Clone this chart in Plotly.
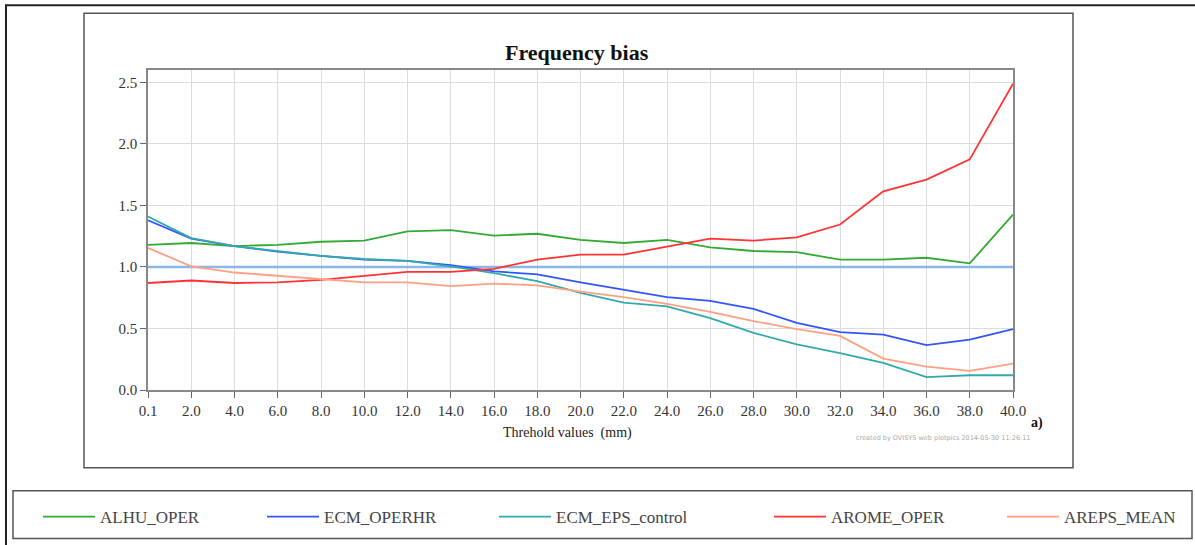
import plotly.graph_objects as go

# Threshold categories (mm)
thresholds = ["0.1", "2.0", "4.0", "6.0", "8.0", "10.0", "12.0", "14.0", "16.0", "18.0",
              "20.0", "22.0", "24.0", "26.0", "28.0", "30.0", "32.0", "34.0", "36.0", "38.0", "40.0"]

# Frequency bias per model
alhu_oper = [1.18, 1.195, 1.17, 1.18, 1.205, 1.215, 1.29, 1.30, 1.255, 1.27, 1.22,
             1.195, 1.22, 1.16, 1.13, 1.12, 1.06, 1.06, 1.075, 1.03, 1.425]
ecm_operhr = [1.38, 1.23, 1.17, 1.125, 1.09, 1.06, 1.05, 1.015, 0.965, 0.94, 0.875,
              0.815, 0.755, 0.725, 0.66, 0.545, 0.47, 0.45, 0.365, 0.41, 0.495]
ecm_eps_control = [1.41, 1.235, 1.17, 1.13, 1.09, 1.065, 1.05, 1.005, 0.95, 0.885, 0.79,
                   0.71, 0.68, 0.585, 0.465, 0.37, 0.30, 0.22, 0.105, 0.12, 0.12]
arome_oper = [0.87, 0.89, 0.87, 0.875, 0.895, 0.925, 0.96, 0.96, 0.985, 1.06, 1.10,
              1.10, 1.165, 1.23, 1.215, 1.24, 1.345, 1.615, 1.71, 1.875, 2.49]
areps_mean = [1.155, 1.005, 0.955, 0.93, 0.905, 0.875, 0.875, 0.845, 0.865, 0.85, 0.80,
              0.755, 0.70, 0.635, 0.56, 0.495, 0.44, 0.255, 0.19, 0.155, 0.215]

perfect_bias = 1.0

W, H = 1195, 545
L, R, T, B = 148, 1013, 70, 391  # plot area in pixels


def px(x):
    return (x - L) / (R - L)


def py(y):
    return (B - y) / (B - T)


SERIF = "Liberation Serif, DejaVu Serif, serif"

fig = go.Figure()

# unbiased reference level
fig.add_trace(go.Scatter(x=thresholds, y=[perfect_bias] * len(thresholds), mode="lines",
                         line=dict(color="#8ab8e8", width=2.5), showlegend=False,
                         hoverinfo="skip"))

# name, values, colour, legend id, legend-sample centre (px)
series = [
    ("ALHU_OPER", alhu_oper, "#33aa33", "legend", 59),
    ("ECM_OPERHR", ecm_operhr, "#3355ff", "legend2", 283),
    ("ECM_EPS_control", ecm_eps_control, "#33aaaa", "legend3", 515),
    ("AROME_OPER", arome_oper, "#ff3333", "legend4", 790),
    ("AREPS_MEAN", areps_mean, "#ffa083", "legend5", 1023),
]

legends = {}
for name, vals, color, lg, cx in series:
    fig.add_trace(go.Scatter(x=thresholds, y=vals, mode="lines", name=name,
                             line=dict(color=color, width=1.8), legend=lg))
    legends[lg] = dict(x=px(cx - 21), y=py(517), xanchor="left", yanchor="middle",
                       xref="paper", yref="paper", bgcolor="rgba(0,0,0,0)",
                       borderwidth=0, itemwidth=52,
                       font=dict(family=SERIF, size=17, color="#444"))

shapes = [
    # outer frame
    dict(type="rect", xref="paper", yref="paper", x0=px(6), x1=px(1210), y0=py(5), y1=py(560),
         line=dict(color="#222", width=2)),
    # chart box
    dict(type="rect", xref="paper", yref="paper", x0=px(84), x1=px(1073), y0=py(13), y1=py(469),
         line=dict(color="#555", width=1.5)),
    # legend box
    dict(type="rect", xref="paper", yref="paper", x0=px(13), x1=px(1192), y0=py(492), y1=py(540),
         line=dict(color="#555", width=1.5)),
]

annotations = [
    dict(text="<b>Frequency bias</b>", xref="paper", yref="paper", x=px(577), y=py(52),
         xanchor="center", yanchor="middle", showarrow=False,
         font=dict(family=SERIF, size=22, color="#111")),
    dict(text="Threhold values  (mm)", xref="paper", yref="paper", x=px(567), y=py(434),
         xanchor="center", yanchor="middle", showarrow=False,
         font=dict(family=SERIF, size=14, color="#222")),
    dict(text="<b>a)</b>", xref="paper", yref="paper", x=px(1037), y=py(424),
         xanchor="center", yanchor="middle", showarrow=False,
         font=dict(family=SERIF, size=14, color="#111")),
    dict(text="created by OVISYS web plotpics 2014-05-30 11:26:11", xref="paper", yref="paper",
         x=px(1032), y=py(439), xanchor="right", yanchor="middle", showarrow=False,
         font=dict(family="DejaVu Sans, sans-serif", size=6.5, color="#aaa")),
]

fig.update_layout(
    width=W, height=H,
    margin=dict(l=L, r=W - R, t=T, b=H - B),
    paper_bgcolor="white", plot_bgcolor="white",
    shapes=shapes, annotations=annotations,
    **legends,
)

fig.update_xaxes(type="category", range=[0, len(thresholds) - 1],
                 showgrid=True, gridcolor="#dcdcdc", gridwidth=1,
                 showline=True, linecolor="#888", linewidth=1.5, mirror=True,
                 ticks="outside", ticklen=6, tickcolor="#666",
                 tickfont=dict(family=SERIF, size=15, color="#333"), zeroline=False)
fig.update_yaxes(range=[0, (B - T) / 123.4], tickvals=[0, 0.5, 1.0, 1.5, 2.0, 2.5],
                 ticktext=["0.0", "0.5", "1.0", "1.5", "2.0", "2.5"],
                 showgrid=True, gridcolor="#dcdcdc", gridwidth=1,
                 showline=True, linecolor="#888", linewidth=1.5, mirror=True,
                 ticks="outside", ticklen=6, tickcolor="#666",
                 tickfont=dict(family=SERIF, size=15, color="#333"), zeroline=False)

fig.write_html("out.html")
